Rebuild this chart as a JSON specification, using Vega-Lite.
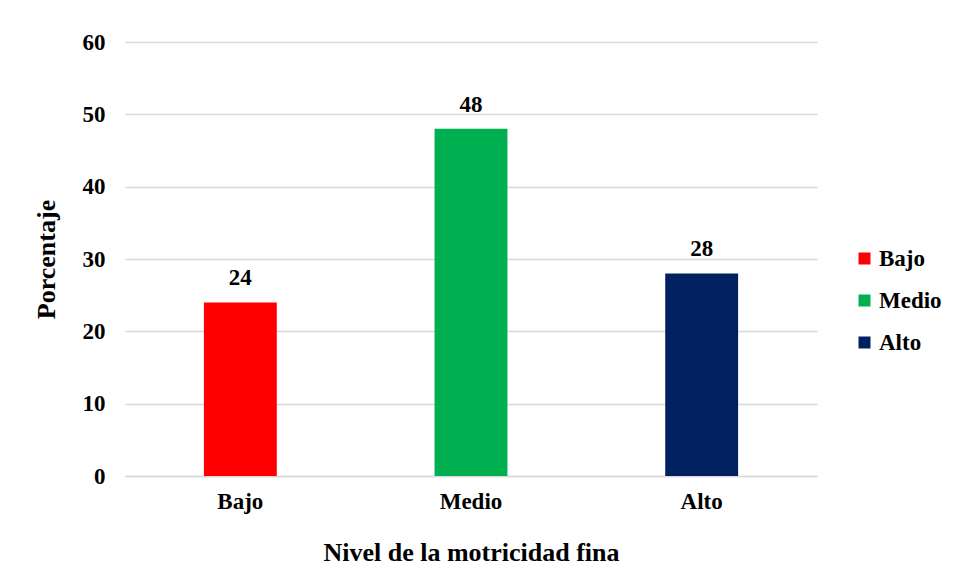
{
  "$schema": "https://vega.github.io/schema/vega-lite/v6.json",
  "width": 692,
  "height": 434,
  "autosize": {"type": "none"},
  "padding": {"left": 125, "top": 42, "right": 136, "bottom": 106},
  "background": "white",
  "config": {
    "view": {"stroke": null},
    "font": "Liberation Serif"
  },
  "data": {
    "values": [
      {"nivel": "Bajo", "porcentaje": 24},
      {"nivel": "Medio", "porcentaje": 48},
      {"nivel": "Alto", "porcentaje": 28}
    ]
  },
  "encoding": {
    "x": {
      "field": "nivel",
      "type": "nominal",
      "sort": ["Bajo", "Medio", "Alto"],
      "scale": {"paddingInner": 0.684, "paddingOuter": 0.342},
      "axis": {
        "title": "Nivel de la motricidad fina",
        "titleFont": "Liberation Serif",
        "titleFontSize": 26,
        "titleFontWeight": "bold",
        "titleColor": "black",
        "titlePadding": 26,
        "labelFont": "Liberation Serif",
        "labelFontSize": 23,
        "labelFontWeight": "bold",
        "labelColor": "black",
        "labelAngle": 0,
        "labelPadding": 14,
        "ticks": false,
        "domainColor": "#d9d9d9",
        "domainWidth": 1.5
      }
    },
    "y": {
      "field": "porcentaje",
      "type": "quantitative",
      "scale": {"domain": [0, 60]},
      "axis": {
        "title": "Porcentaje",
        "titleFont": "Liberation Serif",
        "titleFontSize": 26,
        "titleFontWeight": "bold",
        "titleColor": "black",
        "titlePadding": 23,
        "labelFont": "Liberation Serif",
        "labelFontSize": 23,
        "labelFontWeight": "bold",
        "labelColor": "black",
        "labelPadding": 20,
        "values": [0, 10, 20, 30, 40, 50, 60],
        "ticks": false,
        "domain": false,
        "grid": true,
        "gridColor": "#d9d9d9",
        "gridWidth": 1.5
      }
    }
  },
  "layer": [
    {
      "mark": {"type": "bar"},
      "encoding": {
        "color": {
          "field": "nivel",
          "type": "nominal",
          "sort": ["Bajo", "Medio", "Alto"],
          "scale": {"domain": ["Bajo", "Medio", "Alto"], "range": ["#FF0000", "#00B050", "#002060"]},
          "legend": {
            "title": null,
            "orient": "none",
            "legendX": 728,
            "legendY": 205,
            "padding": 0,
            "symbolType": "square",
            "symbolSize": 144,
            "symbolStrokeWidth": 0,
            "labelFont": "Liberation Serif",
            "labelFontSize": 23,
            "labelFontWeight": "bold",
            "labelColor": "black",
            "labelOffset": 3,
            "rowPadding": 18
          }
        }
      }
    },
    {
      "mark": {"type": "text", "baseline": "alphabetic", "align": "center", "dy": -17, "font": "Liberation Serif", "fontSize": 23, "fontWeight": "bold", "color": "black"},
      "encoding": {
        "text": {"field": "porcentaje", "type": "quantitative"}
      }
    }
  ]
}
